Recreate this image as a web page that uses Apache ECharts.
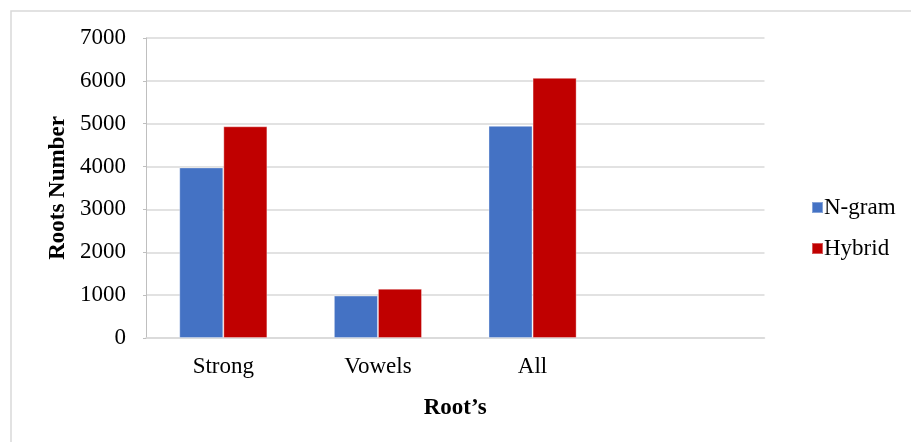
<!DOCTYPE html>
<html>
<head>
<meta charset="utf-8">
<script src="https://cdn.jsdelivr.net/npm/echarts@6/dist/echarts.min.js"></script>
<style>
  html, body { margin: 0; padding: 0; background: #ffffff; }
  #chart { width: 911px; height: 442px; }
</style>
</head>
<body>
<div id="chart"></div>
<script>
// Root categories (the fourth slot is left empty on purpose)
const categories = ['Strong', 'Vowels', 'All', ''];
// Number of roots found by each method
const ngramValues = [3980, 990, 4950, null];
const hybridValues = [4940, 1150, 6070, null];
// Value axis ticks
const yMin = 0;
const yMax = 7000;
const yStep = 1000;

const serif = '"Liberation Serif", "Times New Roman", serif';
const chart = echarts.init(document.getElementById('chart'), null, { renderer: 'canvas' });

chart.setOption({
  backgroundColor: '#ffffff',
  animation: false,
  textStyle: { fontFamily: serif, color: '#000000' },
  graphic: [{
    type: 'rect',
    left: 8.5, top: 8.5,
    shape: { width: 1000, height: 1000 },
    style: { fill: 'none', stroke: '#d9d9d9', lineWidth: 1.5 },
    silent: true
  }],
  grid: { left: 146, right: 146.5, top: 38, bottom: 104, containLabel: false },
  legend: {
    orient: 'vertical',
    left: 806, top: 191,
    itemWidth: 11, itemHeight: 11,
    itemGap: 18,
    icon: 'rect',
    textStyle: { fontFamily: serif, fontSize: 23, color: '#000000', padding: [0, 0, 0, -4] },
    data: ['N-gram', 'Hybrid']
  },
  xAxis: {
    type: 'category',
    data: categories,
    name: 'Root\u2019s',
    nameLocation: 'middle',
    nameGap: 59,
    nameTextStyle: { fontFamily: serif, fontSize: 23, fontWeight: 'bold', color: '#000000' },
    axisLine: { show: true, lineStyle: { color: '#d9d9d9', width: 1.5 } },
    axisTick: { show: false },
    axisLabel: { fontFamily: serif, fontSize: 23, color: '#000000', margin: 17 }
  },
  yAxis: {
    type: 'value',
    min: yMin, max: yMax, interval: yStep,
    name: 'Roots Number',
    nameLocation: 'middle',
    nameGap: 75,
    nameTextStyle: { fontFamily: serif, fontSize: 23, fontWeight: 'bold', color: '#000000' },
    axisLine: { show: true, lineStyle: { color: '#bfbfbf', width: 1 } },
    axisTick: { show: true, length: 3, lineStyle: { color: '#bfbfbf' } },
    axisLabel: {
      fontFamily: serif, fontSize: 23, color: '#000000', margin: 20,
      formatter: (v) => String(v)
    },
    splitLine: { show: true, lineStyle: { color: '#d9d9d9', width: 1.5 } }
  },
  series: [
    {
      name: 'N-gram',
      type: 'bar',
      data: ngramValues,
      barGap: '0%',
      barCategoryGap: '43%',
      itemStyle: { color: '#4472c4', borderColor: 'rgba(255,255,255,0.35)', borderWidth: 1 }
    },
    {
      name: 'Hybrid',
      type: 'bar',
      data: hybridValues,
      barGap: '0%',
      barCategoryGap: '43%',
      itemStyle: { color: '#c00000', borderColor: 'rgba(255,255,255,0.35)', borderWidth: 1 }
    }
  ]
});
</script>
</body>
</html>
